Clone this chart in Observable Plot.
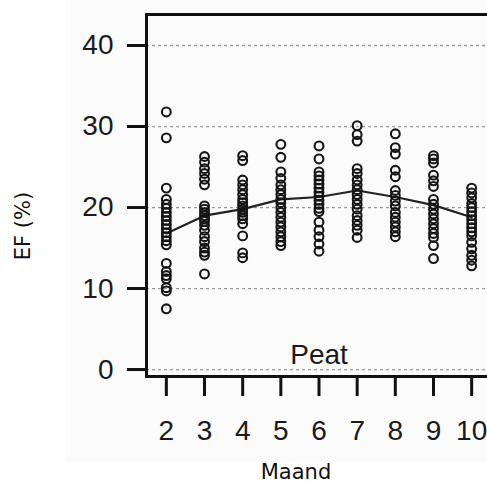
<!DOCTYPE html>
<html>
<head>
<meta charset="utf-8">
<script src="https://cdn.jsdelivr.net/npm/d3@7"></script>
<script src="https://cdn.jsdelivr.net/npm/@observablehq/plot@0.6"></script>
<style>
  html, body { margin: 0; padding: 0; background: #fff; overflow: hidden; }
  #wrap { position: relative; width: 487px; height: 489px; }
  #bg { position: absolute; left: 65px; top: 0; width: 422px; height: 462px; background: #fbfbfb; }
  #chart { position: absolute; left: 0; top: 0; }
  #ytitle { position: absolute; left: 23px; top: 226px; transform: translate(-50%, -50%) rotate(-90deg);
            font: 21px "DejaVu Sans", sans-serif; color: #111; white-space: nowrap; line-height: 1.164; }
</style>
</head>
<body>
<div id="wrap"><div id="bg"></div><div id="chart"></div><div id="ytitle"></div></div>
<script>
// Months on the x axis
const months = [2, 3, 4, 5, 6, 7, 8, 9, 10];
// EF (%) observations per month
const ef2  = [31.8, 28.6, 22.4, 21.0, 20.4, 19.9, 19.4, 18.9, 18.4, 17.9, 17.4, 16.9, 16.4, 15.9, 15.4, 13.1, 12.1, 11.6, 11.2, 10.1, 9.7, 7.5];
const ef3  = [26.3, 25.6, 24.8, 24.2, 23.5, 22.8, 20.2, 19.8, 19.4, 19.0, 18.6, 18.3, 17.8, 17.2, 16.4, 15.8, 15.0, 14.5, 14.1, 11.8];
const ef4  = [26.4, 25.8, 23.4, 22.8, 22.2, 21.6, 21.0, 20.6, 20.2, 19.8, 19.4, 19.0, 18.6, 18.0, 16.5, 14.4, 13.8];
const ef5  = [27.8, 26.2, 24.4, 23.6, 22.8, 22.2, 21.6, 21.0, 20.6, 20.0, 19.4, 18.8, 18.2, 17.6, 17.0, 16.4, 15.8, 15.3];
const ef6  = [27.6, 26.0, 24.4, 23.9, 23.4, 22.9, 22.4, 21.9, 21.4, 20.9, 20.4, 19.9, 19.5, 18.2, 17.2, 16.4, 15.5, 14.6];
const ef7  = [30.1, 29.0, 28.2, 24.8, 24.2, 23.4, 22.8, 22.2, 21.6, 21.0, 20.4, 19.8, 19.0, 18.4, 17.8, 17.2, 16.3];
const ef8  = [29.1, 27.4, 26.6, 24.6, 23.8, 22.1, 21.5, 20.8, 20.2, 19.4, 18.8, 18.2, 17.6, 17.0, 16.4];
const ef9  = [26.4, 26.0, 25.5, 24.0, 23.3, 22.6, 21.0, 20.4, 19.8, 19.2, 18.6, 18.0, 17.4, 16.8, 16.3, 15.3, 13.7];
const ef10 = [22.4, 21.8, 21.2, 20.5, 20.0, 19.5, 19.0, 18.5, 18.0, 17.5, 17.0, 16.5, 15.7, 14.9, 14.1, 13.5, 12.8];
// Mean line per month
const meanEF = [16.8, 19.0, 19.8, 21.0, 21.3, 22.1, 21.3, 20.3, 18.8];
// Tick values and labels
const yTicks = [0, 10, 20, 30, 40];
const xTicks = months;
const panelLabel = "Peat";
const xTitle = "Maand";
const yTitle = "EF (%)";

const series = [ef2, ef3, ef4, ef5, ef6, ef7, ef8, ef9, ef10];
const points = months.flatMap((m, i) => series[i].map(v => ({month: m, ef: v})));
const meanRows = months.map((m, i) => ({month: m, ef: meanEF[i]}));

const chart = Plot.plot({
  width: 487,
  height: 489,
  marginLeft: 146,
  marginRight: -4,
  marginTop: 14,
  marginBottom: 113,
  style: {background: "transparent", fontFamily: "Liberation Sans, Arial, sans-serif", fontSize: "28px", color: "#1a1a1a", maxWidth: "none", overflow: "hidden"},
  x: {type: "linear", domain: [1.48, 10.52], axis: null},
  y: {type: "linear", domain: [-0.86, 43.83], axis: null},
  marks: [
    Plot.ruleY(yTicks, {stroke: "#9a9a9a", strokeWidth: 1.3, strokeDasharray: "3,3"}),
    Plot.line(meanRows, {x: "month", y: "ef", stroke: "#222", strokeWidth: 2.2}),
    Plot.dot(points, {x: "month", y: "ef", r: 4.4, stroke: "#151515", strokeWidth: 2.1, fill: "none"}),
    Plot.frame({stroke: "#111", strokeWidth: 3}),
    Plot.axisY(yTicks, {anchor: "left", tickSize: 19, tickPadding: 14, strokeWidth: 3, stroke: "#111", label: null, fontSize: 28, fill: "#1a1a1a"}),
    Plot.axisX(xTicks, {anchor: "bottom", tickSize: 20, tickPadding: 24, strokeWidth: 3, stroke: "#111", label: null, fontSize: 28, fill: "#1a1a1a"}),
    Plot.text([panelLabel], {frameAnchor: "bottom", dy: -13, fontSize: 28, fill: "#1a1a1a"}),
    Plot.text([xTitle], {frameAnchor: "bottom", dx: -23, dy: 102, fontSize: 21, fontFamily: "DejaVu Sans", fill: "#111"})
  ]
});
document.getElementById("chart").appendChild(chart);
document.getElementById("ytitle").textContent = yTitle;
</script>
</body>
</html>
